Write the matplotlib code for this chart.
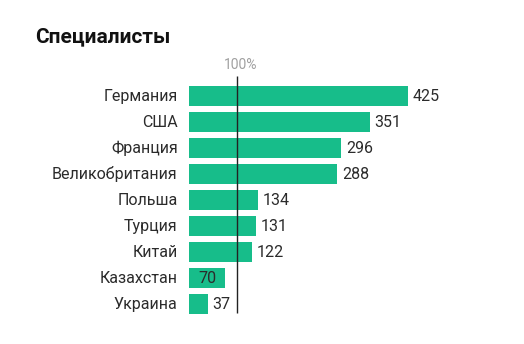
import matplotlib
matplotlib.use("Agg")
import matplotlib.pyplot as plt

plt.rcParams["font.family"] = ["Roboto", "DejaVu Sans"]

countries = ["Германия", "США", "Франция", "Великобритания", "Польша",
             "Турция", "Китай", "Казахстан", "Украина"]
values = [425, 351, 296, 288, 134, 131, 122, 70, 37]
ref_value = 94
ref_label = "100%"
title = "Специалисты"

bar_color = "#17bd8a"
text_color = "#2b2b2b"

fig = plt.figure(figsize=(5.24, 3.44), dpi=100)
ax = fig.add_axes([189 / 524, 1 - 330 / 344, 257.5 / 524, 270 / 344])

rows = list(range(len(countries)))
ax.barh(rows, values, height=0.77, color=bar_color, zorder=1)
ax.set_xlim(0, 500)
ax.set_ylim(9.0, -1.385)

# reference line
ax.vlines(ref_value, -0.77, 8.35, color="#222222", lw=1.0, zorder=3)
ax.text(ref_value + 6, -1.19, ref_label, ha="center", va="center",
        fontsize=10, color="#a0a0a0")

for i, (name, v) in enumerate(zip(countries, values)):
    ax.text(-22, i, name, ha="right", va="center", fontsize=11.5, color=text_color)
    if v < ref_value and v + 45 > ref_value:
        # label would cross the line, put it inside the bar
        ax.text(v - 16, i, str(v), ha="right", va="center", fontsize=11.5,
                color=text_color, zorder=4)
    else:
        ax.text(v + 9, i, str(v), ha="left", va="center", fontsize=11.5,
                color=text_color)

ax.axis("off")

fig.text(35 / 524, 1 - 37 / 344, title, ha="left", va="center",
         fontsize=15, fontweight="bold", color="#111111")

fig.savefig("out.png", dpi=100)
